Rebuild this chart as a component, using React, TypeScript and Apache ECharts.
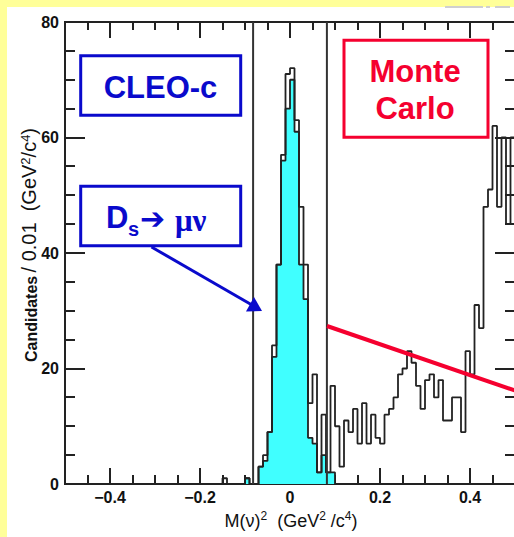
import React, { useEffect, useRef } from "react";
import * as echarts from "echarts";

// ---- data (bin width 0.01 GeV^2/c^4, first bin starts at -0.15) ----
const BIN_START = -0.15;
const BIN_WIDTH = 0.01;

// total Monte Carlo (open histogram)
const mcTotal = [
  1, 0, 0, 0, 0, 1, 0, 0, 3, 5, // -0.15 .. -0.06
  9, 24, 38, 57, 71, // -0.05 .. -0.01
  72, 63, 48, 38, 14, 19, 2, 12, 2, 17, // 0.00 .. 0.09
  10, 3, 11, 9, 13, 7, 14, 7, 12, 8, // 0.10 .. 0.19
  7, 12, 13, 15, 19, 20, 23, 21, 17, 13, // 0.20 .. 0.29
  18, 19, 15, 18, 11, 11, 15, 15, 9, 23, // 0.30 .. 0.39
  19, 31, 27, 48, 51, 62, 48, 60, 45, 60, // 0.40 .. 0.49
];

// D_s -> mu nu signal Monte Carlo (filled histogram)
const signalMC = [
  0, 0, 0, 0, 0, 1, 0, 0, 3, 4, // -0.15 .. -0.06
  9, 22, 38, 56, 65, // -0.05 .. -0.01
  70, 61, 38, 32, 8, 7, 2, 5, 2, 2, // 0.00 .. 0.09
];

const cutValues = [-0.082, 0.082];
const xMajorTicks = [-0.4, -0.2, 0, 0.2, 0.4];
const xMinorTicks = [-0.45, -0.35, -0.3, -0.25, -0.15, -0.1, -0.05, 0.05, 0.1, 0.15, 0.25, 0.3, 0.35, 0.45];
const yMajorTicks = [20, 40, 60];
const yMinorTicks = [5, 10, 15, 25, 30, 35, 45, 50, 55, 65, 70, 75];

const X_MIN = -0.5;
const X_MAX = 0.5;
const Y_MIN = 0;
const Y_MAX = 80;

const CHART_W = 520;
const CHART_H = 537;
const GRID = { left: 65, top: 22, right: 5, bottom: 53 };

const SANS = "'Liberation Sans', Arial, Helvetica, sans-serif";
const BLUE = "#0a0acc";
const RED = "#f5002f";
const CYAN = "#40ffff";
const INK = "#222222";

function histPoints(values: number[]): number[][] {
  const pts: number[][] = [[BIN_START, 0]];
  values.forEach((v, i) => {
    pts.push([+(BIN_START + i * BIN_WIDTH).toFixed(3), v]);
  });
  pts.push([+(BIN_START + values.length * BIN_WIDTH).toFixed(3), 0]);
  return pts;
}

// inward axis ticks on all four sides, placed with the grid's linear axis mapping
function tickElements(): any[] {
  const gw = CHART_W - GRID.left - GRID.right;
  const gh = CHART_H - GRID.top - GRID.bottom;
  const gx = (v: number) => Math.round(GRID.left + ((v - X_MIN) / (X_MAX - X_MIN)) * gw);
  const gy = (v: number) => Math.round(GRID.top + gh - ((v - Y_MIN) / (Y_MAX - Y_MIN)) * gh);
  const els: any[] = [];
  const ln = (x1: number, y1: number, x2: number, y2: number) =>
    els.push({ type: "line", z: 150, silent: true, shape: { x1, y1, x2, y2 }, style: { stroke: INK, lineWidth: 2 } });
  const yb = gy(Y_MIN);
  const yt = gy(Y_MAX);
  const xl = gx(X_MIN);
  const xr = gx(X_MAX);
  const xt = (v: number, lb: number, lt: number) => {
    const x = gx(v);
    ln(x, yb, x, yb - lb);
    ln(x, yt, x, yt + lt);
  };
  xMajorTicks.forEach((v) => xt(v, 16, 16));
  xMinorTicks.forEach((v) => xt(v, 9, 8));
  const ytk = (v: number, len: number) => {
    const y = gy(v);
    ln(xl, y, xl + len, y);
    ln(xr, y, xr - len, y);
  };
  yMajorTicks.forEach((v) => ytk(v, 20));
  yMinorTicks.forEach((v) => ytk(v, 10));
  return els;
}

const fmtX = (v: number) => (v === 0 ? "0" : v < 0 ? "\u2212" + String(Math.abs(v)) : String(v));

export default function App() {
  const ref = useRef<HTMLDivElement>(null);
  const tickRef = useRef<HTMLDivElement>(null);

  useEffect(() => {
    if (!ref.current || !tickRef.current) return;
    const line = { color: INK, width: 2 };

    // ---- tick layer (sits underneath the main chart so the filled histogram covers it) ----
    const tickChart = echarts.init(tickRef.current, null, { renderer: "svg" });
    tickChart.setOption({
      animation: false,
      grid: { ...GRID },
      xAxis: {
        type: "value", min: X_MIN, max: X_MAX, splitNumber: 5,
        splitLine: { show: false },
        axisLine: { show: false, onZero: false },
        axisTick: { show: true, inside: true, length: 16, lineStyle: line },
        axisLabel: { show: false },
      },
      yAxis: {
        type: "value", min: Y_MIN, max: Y_MAX, interval: 20,
        splitLine: { show: false },
        axisLine: { show: false, onZero: false },
        axisTick: { show: true, inside: true, length: 20, lineStyle: line },
        axisLabel: { show: false },
      },
      series: [{ type: "line", data: [], silent: true, symbol: "none" }],
      graphic: tickElements(),
    });

    // ---- main chart ----
    const chart = echarts.init(ref.current, null, { renderer: "svg" });

    const cutSeries = cutValues.map((c, i) => ({
      name: "cut " + (i + 1),
      type: "line",
      symbol: "none",
      silent: true,
      data: [[c, Y_MIN], [c, Y_MAX]],
      lineStyle: { color: "#333", width: 2 },
      z: 5,
    }));

    const annotations: any[] = [
      // faint remnant at top right
      { type: "line", z: 100, silent: true, shape: { x1: 445, y1: 7, x2: 483, y2: 7 }, style: { stroke: "#cfcfcf", lineWidth: 2 } },
      { type: "line", z: 100, silent: true, shape: { x1: 486, y1: 7, x2: 490, y2: 7 }, style: { stroke: "#cfcfcf", lineWidth: 2 } },
      { type: "line", z: 100, silent: true, shape: { x1: 495, y1: 7, x2: 510, y2: 7 }, style: { stroke: "#cfcfcf", lineWidth: 2 } },
      // y axis title
      {
        type: "text", z: 100, x: 29, y: 245, rotation: Math.PI / 2,
        style: {
          text: "{b|Candidates} {n|/ 0.01  (GeV}{s|2}{n|/c}{s|4}{n|)}",
          textAlign: "center", textVerticalAlign: "middle",
          rich: {
            b: { fontSize: 16, fontWeight: "bold", fontFamily: SANS, fill: "#111", verticalAlign: "bottom", lineHeight: 20 },
            n: { fontSize: 20, fontFamily: SANS, fill: "#111", verticalAlign: "bottom", lineHeight: 20 },
            s: { fontSize: 13, fontFamily: SANS, fill: "#111", verticalAlign: "top", lineHeight: 20 },
          },
        },
      },
      // x axis title
      {
        type: "text", z: 100, x: 291, y: 520,
        style: {
          text: "{n|M(\u03bd)}{s|2}{n|  (GeV}{s|2}{n| /c}{s|4}{n|)}",
          textAlign: "center", textVerticalAlign: "middle",
          rich: {
            n: { fontSize: 18, fontFamily: SANS, fill: "#111", verticalAlign: "bottom", lineHeight: 20 },
            s: { fontSize: 12, fontFamily: SANS, fill: "#111", verticalAlign: "top", lineHeight: 20 },
          },
        },
      },
      // CLEO-c box
      { type: "rect", z: 100, shape: { x: 80.7, y: 55.7, width: 160, height: 59.6 }, style: { fill: "#fff", stroke: BLUE, lineWidth: 3 } },
      { type: "text", z: 101, x: 160.5, y: 87, style: { text: "CLEO-c", fill: BLUE, font: `bold 31px ${SANS}`, textAlign: "center", textVerticalAlign: "middle" } },
      // Ds -> mu nu box
      { type: "rect", z: 100, shape: { x: 80.7, y: 186.2, width: 160, height: 59.5 }, style: { fill: "#fff", stroke: BLUE, lineWidth: 3 } },
      { type: "text", z: 101, x: 106, y: 217, style: { text: "D", fill: BLUE, font: `bold 31px ${SANS}`, textAlign: "left", textVerticalAlign: "middle" } },
      { type: "text", z: 101, x: 128, y: 229, style: { text: "s", fill: BLUE, font: `bold 20px ${SANS}`, textAlign: "left", textVerticalAlign: "middle" } },
      { type: "text", z: 101, x: 140, y: 218, style: { text: "\u2794", fill: BLUE, font: `bold 30px 'DejaVu Sans', sans-serif`, textAlign: "left", textVerticalAlign: "middle" } },
      { type: "text", z: 101, x: 175, y: 220, style: { text: "\u03bc\u03bd", fill: BLUE, font: `bold 31px 'Liberation Serif', serif`, textAlign: "left", textVerticalAlign: "middle" } },
      // blue arrow
      { type: "line", z: 100, shape: { x1: 151.5, y1: 247, x2: 252, y2: 305 }, style: { stroke: BLUE, lineWidth: 3 } },
      { type: "polygon", z: 100, shape: { points: [[262, 311], [246, 311.5], [254, 297]] }, style: { fill: BLUE } },
      // Monte Carlo box
      { type: "rect", z: 100, shape: { x: 344, y: 40.3, width: 144, height: 97 }, style: { fill: "#fff", stroke: RED, lineWidth: 3 } },
      { type: "text", z: 101, x: 415, y: 71, style: { text: "Monte", fill: RED, font: `bold 31px ${SANS}`, textAlign: "center", textVerticalAlign: "middle" } },
      { type: "text", z: 101, x: 415, y: 108, style: { text: "Carlo", fill: RED, font: `bold 31px ${SANS}`, textAlign: "center", textVerticalAlign: "middle" } },
      // red pointer line
      { type: "line", z: 100, shape: { x1: 327, y1: 326, x2: 520, y2: 392.3 }, style: { stroke: RED, lineWidth: 4 } },
    ];

    chart.setOption({
      animation: false,
      grid: { ...GRID, show: true, borderColor: INK, borderWidth: 2 },
      xAxis: {
        type: "value",
        min: X_MIN,
        max: X_MAX,
        splitNumber: 5,
        splitLine: { show: false },
        axisLine: { show: true, onZero: false, lineStyle: line },
        axisTick: { show: false },
        axisLabel: { show: true, showMinLabel: false, showMaxLabel: false, formatter: fmtX, fontSize: 16, fontWeight: "bold", color: "#111", margin: 5, fontFamily: SANS },
      },
      yAxis: {
        type: "value",
        min: Y_MIN,
        max: Y_MAX,
        interval: 20,
        splitLine: { show: false },
        axisLine: { show: true, onZero: false, lineStyle: line },
        axisTick: { show: false },
        axisLabel: { show: true, fontSize: 16, fontWeight: "bold", color: "#111", margin: 6, fontFamily: SANS },
      },
      series: [
        {
          name: "Ds signal MC",
          type: "line",
          step: "end",
          symbol: "none",
          data: histPoints(signalMC),
          lineStyle: { color: INK, width: 1.8 },
          areaStyle: { color: CYAN, opacity: 1 },
          z: 2,
        },
        {
          name: "Monte Carlo",
          type: "line",
          step: "end",
          symbol: "none",
          data: histPoints(mcTotal),
          lineStyle: { color: INK, width: 1.8 },
          z: 3,
        },
        ...cutSeries,
      ],
      graphic: annotations,
    });

    return () => {
      chart.dispose();
      tickChart.dispose();
    };
  }, []);

  return (
    <div style={{ position: "fixed", left: 0, top: 0, width: 514, height: 537, overflow: "hidden", background: "#ffff99" }}>
      <div style={{ position: "absolute", left: 7, top: 7, right: 0, bottom: 0, background: "#ffffff" }} />
      <div ref={tickRef} style={{ position: "absolute", left: 0, top: 0, width: CHART_W, height: CHART_H, pointerEvents: "none" }} />
      <div ref={ref} style={{ position: "absolute", left: 0, top: 0, width: CHART_W, height: CHART_H }} />
    </div>
  );
}
